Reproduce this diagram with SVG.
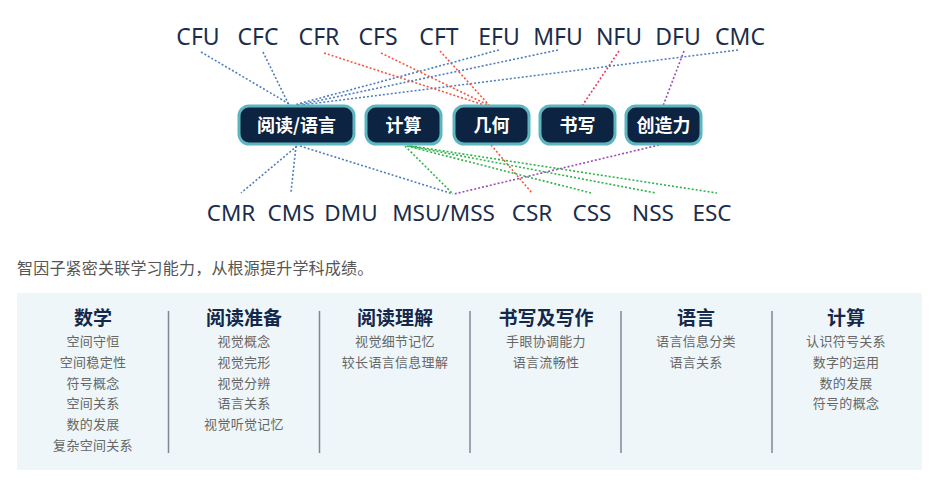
<svg xmlns="http://www.w3.org/2000/svg" width="943" height="495" viewBox="0 0 943 495">
<style>
.lbl{font-family:"Noto Sans","Liberation Sans",sans-serif;font-size:23px;fill:#1b2d4b;text-anchor:middle}
.lblb{font-family:"Noto Sans","Liberation Sans",sans-serif;font-size:22.5px;fill:#1b2d4b;text-anchor:middle}
.box{fill:#0c2341;stroke:#5cb6c0;stroke-width:3}
.bt{font-family:"Noto Sans CJK SC","Noto Sans",sans-serif;font-size:18px;font-weight:700;fill:#ffffff;text-anchor:middle}
.c{fill:none;stroke-width:1.6;stroke-dasharray:2 2}
.blue{stroke:#4f7dbf}
.red{stroke:#f2573d}
.crim{stroke:#e23a5b}
.pur{stroke:#9b4db3}
.grn{stroke:#2fb34a}
.sub{font-family:"Noto Sans CJK SC","Noto Sans",sans-serif;font-size:16px;fill:#555555;letter-spacing:0.2px}
.ht{font-family:"Noto Sans CJK SC","Noto Sans",sans-serif;font-size:19px;font-weight:700;fill:#13284a;text-anchor:middle}
.it{font-family:"Noto Sans CJK SC","Noto Sans",sans-serif;font-size:13px;fill:#666666;text-anchor:middle;letter-spacing:0.3px}
.div{stroke:#7c8896;stroke-width:1.5}
</style>
<g id="connectors">
<line class="c blue" x1="201" y1="52" x2="291" y2="105"/>
<line class="c blue" x1="263" y1="52" x2="289" y2="105"/>
<line class="c blue" x1="499" y1="50" x2="294" y2="105"/>
<line class="c blue" x1="558" y1="50" x2="298" y2="105"/>
<line class="c blue" x1="738" y1="50" x2="302" y2="105"/>
<line class="c blue" x1="297" y1="146" x2="241" y2="193"/>
<line class="c blue" x1="296" y1="146" x2="291" y2="192"/>
<line class="c blue" x1="300" y1="146" x2="453" y2="194"/>
<line class="c red" x1="324" y1="53" x2="484" y2="105"/>
<line class="c red" x1="381" y1="53" x2="488" y2="105"/>
<line class="c red" x1="440" y1="51" x2="489" y2="105"/>
<line class="c red" x1="491" y1="145" x2="532" y2="193"/>
<line class="c crim" x1="619" y1="51" x2="582" y2="106"/>
<line class="c pur" x1="684" y1="51" x2="663" y2="106"/>
<line class="c pur" x1="659" y1="145" x2="454" y2="194"/>
<line class="c grn" x1="405" y1="146" x2="453" y2="194"/>
<line class="c grn" x1="407" y1="146" x2="591" y2="193"/>
<line class="c grn" x1="409" y1="146" x2="656" y2="193"/>
<line class="c grn" x1="411" y1="146" x2="717" y2="193"/>
</g>
<g id="top-labels">
<text class="lbl" x="198" y="45">CFU</text>
<text class="lbl" x="258" y="45">CFC</text>
<text class="lbl" x="319" y="45">CFR</text>
<text class="lbl" x="378" y="45">CFS</text>
<text class="lbl" x="439" y="45">CFT</text>
<text class="lbl" x="499" y="45">EFU</text>
<text class="lbl" x="558" y="45">MFU</text>
<text class="lbl" x="619" y="45">NFU</text>
<text class="lbl" x="678" y="45">DFU</text>
<text class="lbl" x="740" y="45">CMC</text>
</g>
<g id="node-reading"><rect class="box" x="239" y="106" width="115" height="38" rx="10"/><text class="bt" x="296.5" y="132">阅读/语言</text></g>
<g id="node-calc"><rect class="box" x="366" y="106" width="75" height="38" rx="10"/><text class="bt" x="403.5" y="132">计算</text></g>
<g id="node-geometry"><rect class="box" x="454" y="106" width="75" height="38" rx="10"/><text class="bt" x="491.5" y="132">几何</text></g>
<g id="node-writing"><rect class="box" x="540" y="106" width="75" height="38" rx="10"/><text class="bt" x="577.5" y="132">书写</text></g>
<g id="node-creativity"><rect class="box" x="626" y="106" width="75" height="38" rx="10"/><text class="bt" x="663.5" y="132">创造力</text></g>
<g id="bottom-labels">
<text class="lblb" x="231" y="221">CMR</text>
<text class="lblb" x="291" y="221">CMS</text>
<text class="lblb" x="351" y="221">DMU</text>
<text class="lblb" x="443.5" y="221">MSU/MSS</text>
<text class="lblb" x="532" y="221">CSR</text>
<text class="lblb" x="592" y="221">CSS</text>
<text class="lblb" x="653" y="221">NSS</text>
<text class="lblb" x="712" y="221">ESC</text>
</g>
<text class="sub" x="17" y="274">智因子紧密关联学习能力，从根源提升学科成绩。</text>
<g id="panel">
<rect x="17" y="293" width="905" height="177" fill="#eef6f9"/>
<line class="div" x1="168.5" y1="311" x2="168.5" y2="453"/>
<line class="div" x1="319.5" y1="311" x2="319.5" y2="453"/>
<line class="div" x1="470" y1="311" x2="470" y2="453"/>
<line class="div" x1="621" y1="311" x2="621" y2="453"/>
<line class="div" x1="772" y1="311" x2="772" y2="453"/>
<g id="col-math">
<text class="ht" x="93" y="325">数学</text>
<text class="it" x="93" y="346">空间守恒</text>
<text class="it" x="93" y="367">空间稳定性</text>
<text class="it" x="93" y="387.5">符号概念</text>
<text class="it" x="93" y="408">空间关系</text>
<text class="it" x="93" y="429">数的发展</text>
<text class="it" x="93" y="449.5">复杂空间关系</text>
</g>
<g id="col-readprep">
<text class="ht" x="244" y="325">阅读准备</text>
<text class="it" x="244" y="346">视觉概念</text>
<text class="it" x="244" y="367">视觉完形</text>
<text class="it" x="244" y="387.5">视觉分辨</text>
<text class="it" x="244" y="408">语言关系</text>
<text class="it" x="244" y="429">视觉听觉记忆</text>
</g>
<g id="col-readcomp">
<text class="ht" x="395" y="325">阅读理解</text>
<text class="it" x="395" y="346">视觉细节记忆</text>
<text class="it" x="395" y="367">较长语言信息理解</text>
</g>
<g id="col-writing">
<text class="ht" x="546" y="325">书写及写作</text>
<text class="it" x="546" y="346">手眼协调能力</text>
<text class="it" x="546" y="367">语言流畅性</text>
</g>
<g id="col-language">
<text class="ht" x="696" y="325">语言</text>
<text class="it" x="696" y="346">语言信息分类</text>
<text class="it" x="696" y="367">语言关系</text>
</g>
<g id="col-calc">
<text class="ht" x="846" y="325">计算</text>
<text class="it" x="846" y="346">认识符号关系</text>
<text class="it" x="846" y="367">数字的运用</text>
<text class="it" x="846" y="387.5">数的发展</text>
<text class="it" x="846" y="408">符号的概念</text>
</g>
</g>
</svg>
